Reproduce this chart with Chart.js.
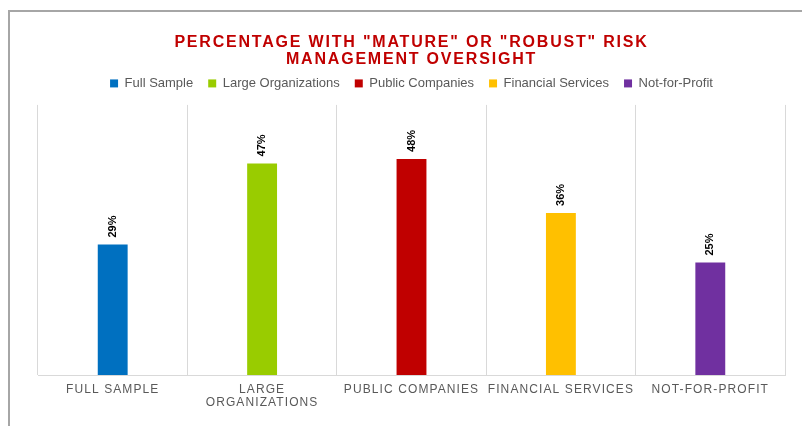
<!DOCTYPE html>
<html lang="en">
<head>
<meta charset="UTF-8">
<script src="https://cdn.jsdelivr.net/npm/chart.js"></script>
<title>Risk management oversight</title>
<style>
  html, body { margin: 0; padding: 0; background: #fff; }
  #wrap { width: 802px; height: 426px; }
</style>
</head>
<body>
<div id="wrap"><canvas id="grafico"></canvas></div>
<script>
// data
const seriesNames = ['Full Sample', 'Large Organizations', 'Public Companies', 'Financial Services', 'Not-for-Profit']
const tickLabels = ['FULL SAMPLE', ['LARGE', 'ORGANIZATIONS'], 'PUBLIC COMPANIES', 'FINANCIAL SERVICES', 'NOT-FOR-PROFIT']
const values = [29, 47, 48, 36, 25]
const colors = ['#0070C0', '#99CC00', '#C00000', '#FFC000', '#7030A0']

// one dataset per group, so the legend lists each one
const datasets = seriesNames.map((name, i) => ({
  label: name,
  data: values.map((v, j) => (j === i ? v : null)),
  backgroundColor: colors[i],
  borderWidth: 0,
  categoryPercentage: 1,
  barPercentage: 0.2
}))

const framePlugin = {
  id: 'frame',
  afterInit(chart) {
    // spacing per text block
    const wrap = (box, sp) => {
      const d = box.draw.bind(box)
      box.draw = function (...a) {
        const c = chart.ctx
        const old = c.letterSpacing
        c.letterSpacing = sp
        d(...a)
        c.letterSpacing = old
      }
    }
    wrap(chart.titleBlock, '1.8px')
    wrap(chart.legend, '0px')
    // a bit more room under the legend
    const fit = chart.legend.fit.bind(chart.legend)
    chart.legend.fit = function () {
      fit()
      this.height += 5
    }
  },
  beforeDraw(chart) {
    const ctx = chart.ctx
    ctx.save()
    ctx.strokeStyle = '#A6A6A6'
    ctx.lineWidth = 2
    ctx.beginPath()
    ctx.moveTo(9, 426)
    ctx.lineTo(9, 11)
    ctx.lineTo(802, 11)
    ctx.stroke()
    ctx.restore()
    ctx.letterSpacing = '1.1px'
  },
  afterDraw(chart) {
    chart.ctx.letterSpacing = '0px'
  }
}

const labelPlugin = {
  id: 'valueLabels',
  afterDatasetsDraw(chart) {
    const ctx = chart.ctx
    ctx.save()
    ctx.letterSpacing = '0px'
    ctx.font = 'bold 11px "Liberation Sans", Arial, sans-serif'
    ctx.fillStyle = '#000'
    ctx.textAlign = 'left'
    ctx.textBaseline = 'middle'
    chart.data.datasets.forEach((ds, i) => {
      const meta = chart.getDatasetMeta(i)
      meta.data.forEach((bar, j) => {
        if (ds.data[j] == null) return
        ctx.save()
        ctx.translate(bar.x, bar.y - 7)
        ctx.rotate(-Math.PI / 2)
        ctx.fillText(ds.data[j] + '%', 0, 0)
        ctx.restore()
      })
    })
    ctx.restore()
  }
}

const ctx = document.getElementById('grafico')

var grafico = new Chart(ctx, {
  type: 'bar',
  data: {
    labels: tickLabels,
    datasets: datasets
  },
  options: {
    responsive: true,
    maintainAspectRatio: false,
    animation: false,
    skipNull: true,
    layout: {
      padding: { left: 38, right: 17, top: 0, bottom: 9 }
    },
    plugins: {
      title: {
        display: true,
        text: ['PERCENTAGE WITH "MATURE" OR "ROBUST" RISK', 'MANAGEMENT OVERSIGHT'],
        color: '#C00000',
        font: { family: '"Liberation Sans", Arial, sans-serif', size: 16, weight: 'bold', lineHeight: 1.06 },
        padding: { top: 34, bottom: -6 }
      },
      legend: {
        display: true,
        labels: {
          color: '#595959',
          boxWidth: 8,
          boxHeight: 8,
          padding: 15,
          font: { family: '"Liberation Sans", Arial, sans-serif', size: 13 }
        }
      },
      tooltip: { enabled: false }
    },
    scales: {
      x: {
        grid: { display: true, color: '#D9D9D9', drawTicks: false, offset: true },
        border: { display: true, color: '#D9D9D9' },
        ticks: {
          color: '#595959',
          maxRotation: 0,
          autoSkip: false,
          padding: 8,
          font: { family: '"Liberation Sans", Arial, sans-serif', size: 12, lineHeight: 1.08 }
        }
      },
      y: {
        display: false,
        min: 0,
        max: 60
      }
    }
  },
  plugins: [framePlugin, labelPlugin]
})
</script>
</body>
</html>
